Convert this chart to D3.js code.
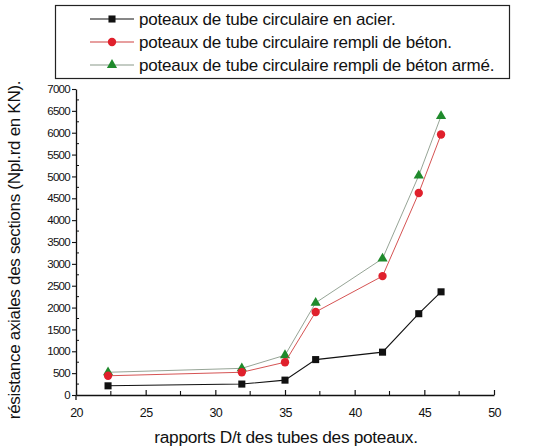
<!DOCTYPE html>
<html>
<head>
<meta charset="utf-8">
<script src="https://cdn.jsdelivr.net/npm/d3@7"></script>
<style>
  html, body { margin: 0; padding: 0; background: #fff; }
  svg { display: block; }
  text { font-family: "Liberation Sans", Arial, sans-serif; fill: #111; }
</style>
</head>
<body>
<svg id="chart" width="543" height="448"></svg>
<script>
// D/t ratios of the tested columns
const ratios = [22.3, 31.9, 35.0, 37.2, 42.0, 44.6, 46.2];
// Axial resistance Npl.rd (kN) for each column type
const steelTube = [210, 250, 340, 810, 980, 1860, 2360];
const concreteFilled = [440, 520, 750, 1900, 2720, 4620, 5960];
const reinforcedFilled = [520, 610, 910, 2110, 3120, 5020, 6380];

const seriesNames = [
  "poteaux de tube circulaire en acier.",
  "poteaux de tube circulaire rempli de béton.",
  "poteaux de tube circulaire rempli de béton armé."
];
const xTicks = [20, 25, 30, 35, 40, 45, 50];
const yTicks = [0, 500, 1000, 1500, 2000, 2500, 3000, 3500, 4000, 4500, 5000, 5500, 6000, 6500, 7000];

const xTitle = "rapports D/t des tubes des poteaux.";
const yTitle = "résistance axiales des sections (Npl.rd en KN).";

const svg = d3.select("#chart");

const x = d3.scaleLinear().domain([20, 50]).range([76, 494]);
const y = d3.scaleLinear().domain([0, 7000]).range([395, 89]);

// X axis: ticks pointing into the plot
const xAxis = d3.axisBottom(x).tickValues(xTicks).tickSizeInner(-5).tickSizeOuter(0).tickFormat(d3.format("d"));
const gx = svg.append("g").attr("transform", `translate(0,${y(0)})`).call(xAxis);
gx.select(".domain").attr("stroke", "#111").attr("stroke-width", 1.3);
gx.selectAll(".tick line").attr("stroke", "#111").attr("stroke-width", 1.2);
gx.selectAll(".tick text").attr("dy", "0").attr("y", 22).style("font-size", "12.5px").style("letter-spacing", "-0.6px");
// minor x ticks
gx.selectAll(".minor").data(d3.range(22.5, 50, 5)).enter().append("line")
  .attr("x1", d => x(d)).attr("x2", d => x(d)).attr("y1", 0).attr("y2", -4)
  .attr("stroke", "#111").attr("stroke-width", 1.1);

// Y axis: major ticks outward, minor inward
const yAxis = d3.axisLeft(y).tickValues(yTicks).tickSizeInner(4).tickSizeOuter(0).tickFormat(d3.format("d"));
const gy = svg.append("g").attr("transform", `translate(${x(20)},0)`).call(yAxis);
gy.select(".domain").attr("stroke", "#111").attr("stroke-width", 1.3);
gy.selectAll(".tick line").attr("stroke", "#111").attr("stroke-width", 1.1);
gy.selectAll(".tick text").attr("x", -6).style("font-size", "11.5px").style("letter-spacing", "-0.7px");
gy.selectAll(".minorY").data(d3.range(250, 7000, 500)).enter().append("line")
  .attr("x1", 0).attr("x2", 3).attr("y1", d => y(d)).attr("y2", d => y(d))
  .attr("stroke", "#111").attr("stroke-width", 1);
// extend the y axis slightly below the origin
gy.append("line").attr("x1", 0).attr("x2", 0).attr("y1", y(0)).attr("y2", y(0) + 5)
  .attr("stroke", "#111").attr("stroke-width", 1.3);

// Axis titles
svg.append("text").attr("x", 286).attr("y", 443).attr("text-anchor", "middle")
  .style("font-size", "17.3px").style("letter-spacing", "-0.3px").text(xTitle);
svg.append("text").attr("transform", "translate(20,250) rotate(-90)").attr("text-anchor", "middle")
  .style("font-size", "17px").style("letter-spacing", "-0.3px").text(yTitle);

// Series definitions
const series = [
  { name: seriesNames[0], values: steelTube, line: "#111", fill: "#111", symbol: d3.symbolSquare, size: 50, width: 1.1 },
  { name: seriesNames[1], values: concreteFilled, line: "#d04040", fill: "#e0202c", symbol: d3.symbolCircle, size: 55, width: 0.9 },
  { name: seriesNames[2], values: reinforcedFilled, line: "#8a9a8a", fill: "#1f8a2c", symbol: d3.symbolTriangle, size: 45, width: 0.9 }
];

const line = d3.line().x(d => x(d[0])).y(d => y(d[1]));

// draw green first so red and black sit on top
series.slice().reverse().forEach(s => {
  const pts = ratios.map((r, i) => [r, s.values[i]]);
  svg.append("path").datum(pts).attr("d", line)
    .attr("fill", "none").attr("stroke", s.line).attr("stroke-width", s.width);
  svg.append("g").selectAll("path").data(pts).enter().append("path")
    .attr("transform", d => `translate(${x(d[0])},${y(d[1])})`)
    .attr("d", d3.symbol().type(s.symbol).size(s.size))
    .attr("fill", s.fill);
});

// Legend
const legend = svg.append("g");
legend.append("rect").attr("x", 55.5).attr("y", 5.5).attr("width", 454).attr("height", 73)
  .attr("fill", "#fff").attr("stroke", "#222").attr("stroke-width", 1.2);
series.forEach((s, i) => {
  const yy = 19 + i * 23;
  legend.append("line").attr("x1", 90).attr("x2", 134).attr("y1", yy).attr("y2", yy)
    .attr("stroke", s.line).attr("stroke-width", 1.1);
  legend.append("path").attr("transform", `translate(112,${yy})`)
    .attr("d", d3.symbol().type(s.symbol).size(s.size)).attr("fill", s.fill);
  legend.append("text").attr("x", 139).attr("y", yy + 6)
    .style("font-size", "17px").style("letter-spacing", "-0.2px").text(s.name);
});
</script>
</body>
</html>
